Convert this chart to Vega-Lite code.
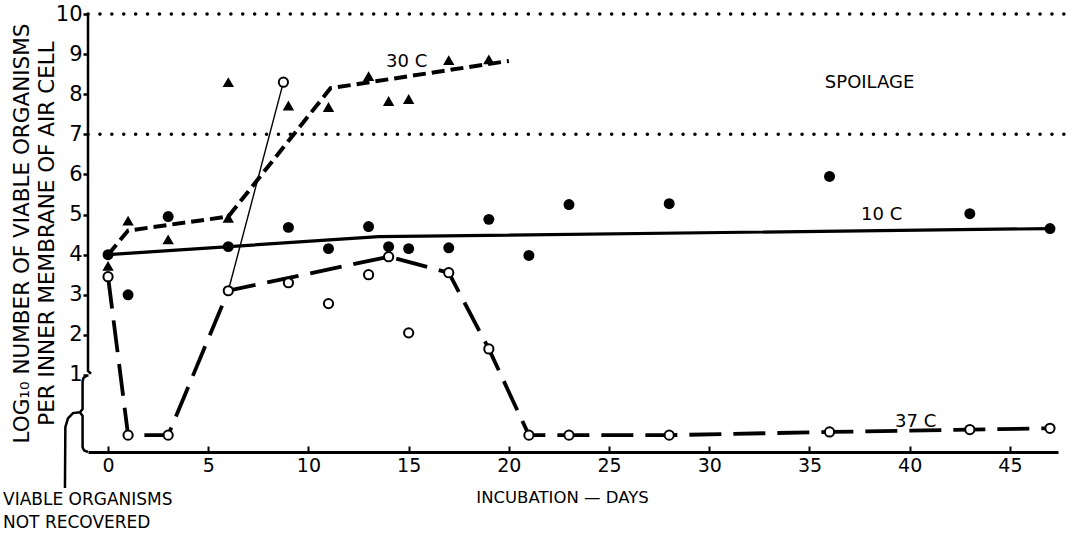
{
  "$schema": "https://vega.github.io/schema/vega-lite/v6.json",
  "width": 970,
  "height": 438,
  "autosize": {"type": "none"},
  "padding": {"left": 88, "top": 14, "right": 27, "bottom": 81},
  "background": "white",
  "config": {
    "font": "DejaVu Sans",
    "view": {"stroke": null},
    "axis": {"labelColor": "black", "titleColor": "black", "tickColor": "black", "domainColor": "black", "grid": false, "labelFont": "DejaVu Sans", "titleFont": "DejaVu Sans", "titleFontWeight": "normal"}
  },
  "datasets": {
    "guides": [{"y": 10}, {"y": 7}],
    "points": [
      {"series": "10 C", "day": 0, "v": 4.0},
      {"series": "10 C", "day": 1, "v": 3.0},
      {"series": "10 C", "day": 3, "v": 4.95},
      {"series": "10 C", "day": 6, "v": 4.2},
      {"series": "10 C", "day": 9, "v": 4.68},
      {"series": "10 C", "day": 11, "v": 4.15},
      {"series": "10 C", "day": 13, "v": 4.7},
      {"series": "10 C", "day": 14, "v": 4.2},
      {"series": "10 C", "day": 15, "v": 4.15},
      {"series": "10 C", "day": 17, "v": 4.17},
      {"series": "10 C", "day": 19, "v": 4.88},
      {"series": "10 C", "day": 21, "v": 3.98},
      {"series": "10 C", "day": 23, "v": 5.25},
      {"series": "10 C", "day": 28, "v": 5.27},
      {"series": "10 C", "day": 36, "v": 5.95},
      {"series": "10 C", "day": 43, "v": 5.02},
      {"series": "10 C", "day": 47, "v": 4.65},
      {"series": "30 C", "day": 0, "v": 3.72},
      {"series": "30 C", "day": 1, "v": 4.85},
      {"series": "30 C", "day": 3, "v": 4.38},
      {"series": "30 C", "day": 6, "v": 4.92},
      {"series": "30 C", "day": 6, "v": 8.3},
      {"series": "30 C", "day": 9, "v": 7.72},
      {"series": "30 C", "day": 11, "v": 7.68},
      {"series": "30 C", "day": 13, "v": 8.45},
      {"series": "30 C", "day": 14, "v": 7.83},
      {"series": "30 C", "day": 15, "v": 7.88},
      {"series": "30 C", "day": 17, "v": 8.85},
      {"series": "30 C", "day": 19, "v": 8.87},
      {"series": "37 C", "day": 0, "v": 3.45},
      {"series": "37 C", "day": 1, "v": -0.5},
      {"series": "37 C", "day": 3, "v": -0.5},
      {"series": "37 C", "day": 6, "v": 3.1},
      {"series": "37 C", "day": 8.75, "v": 8.3},
      {"series": "37 C", "day": 9, "v": 3.3},
      {"series": "37 C", "day": 11, "v": 2.78},
      {"series": "37 C", "day": 13, "v": 3.5},
      {"series": "37 C", "day": 14, "v": 3.95},
      {"series": "37 C", "day": 15, "v": 2.05},
      {"series": "37 C", "day": 17, "v": 3.55},
      {"series": "37 C", "day": 19, "v": 1.65},
      {"series": "37 C", "day": 21, "v": -0.5},
      {"series": "37 C", "day": 23, "v": -0.5},
      {"series": "37 C", "day": 28, "v": -0.5},
      {"series": "37 C", "day": 36, "v": -0.42},
      {"series": "37 C", "day": 43, "v": -0.36},
      {"series": "37 C", "day": 47, "v": -0.33}
    ],
    "line10": [
      {"day": 0, "v": 4.0},
      {"day": 13.5, "v": 4.45},
      {"day": 47, "v": 4.65}
    ],
    "line30": [
      {"day": 0, "v": 4.0},
      {"day": 1, "v": 4.6},
      {"day": 6, "v": 4.95},
      {"day": 11.1, "v": 8.15},
      {"day": 20, "v": 8.83}
    ],
    "line37": [
      {"day": 0, "v": 3.45},
      {"day": 1, "v": -0.5},
      {"day": 3, "v": -0.5},
      {"day": 6, "v": 3.1},
      {"day": 14, "v": 3.95},
      {"day": 17, "v": 3.55},
      {"day": 19, "v": 1.65},
      {"day": 21, "v": -0.5},
      {"day": 23, "v": -0.5},
      {"day": 28, "v": -0.5},
      {"day": 36, "v": -0.42},
      {"day": 43, "v": -0.36},
      {"day": 47, "v": -0.33}
    ],
    "thin37": [
      {"day": 6, "v": 3.1},
      {"day": 8.75, "v": 8.3}
    ],
    "brace": [
      {"g": "axis", "i": 0, "day": -1, "v": 10},
      {"g": "axis", "i": 1, "day": -1, "v": 1.1},
      {"g": "axis", "i": 2, "day": -0.85, "v": 1.03},
      {"g": "brace", "i": 0, "day": -1.05, "v": 0.98},
      {"g": "brace", "i": 1, "day": -1.22, "v": 0.93},
      {"g": "brace", "i": 2, "day": -1.27, "v": 0.85},
      {"g": "brace", "i": 3, "day": -1.27, "v": 0.15},
      {"g": "brace", "i": 4, "day": -1.4, "v": 0.07},
      {"g": "brace", "i": 5, "day": -1.27, "v": -0.02},
      {"g": "brace", "i": 6, "day": -1.27, "v": -0.8},
      {"g": "brace", "i": 7, "day": -1.2, "v": -0.88},
      {"g": "brace", "i": 8, "day": -1.0, "v": -0.92},
      {"g": "link", "i": 0, "day": -1.4, "v": 0.07},
      {"g": "link", "i": 1, "day": -1.75, "v": 0.05},
      {"g": "link", "i": 2, "day": -2.0, "v": -0.08},
      {"g": "link", "i": 3, "day": -2.13, "v": -0.3},
      {"g": "link", "i": 4, "day": -2.15, "v": -1.82}
    ],
    "notes": [
      {"day": 38.0, "v": 8.28, "t": "SPOILAGE"},
      {"day": 14.9, "v": 8.8, "t": "30 C"},
      {"day": 38.6, "v": 4.99, "t": "10 C"},
      {"day": 40.3, "v": -0.17, "t": "37 C"}
    ],
    "nr": [
      {"day": -5.24, "v": -2.24, "t": "VIABLE ORGANISMS\nNOT RECOVERED"}
    ]
  },
  "layer": [
    {
      "data": {"name": "guides"},
      "mark": {"type": "rule", "strokeDash": [0.1, 11.8], "strokeCap": "round", "strokeWidth": 3.5, "color": "black", "clip": false},
      "encoding": {
        "x": {"datum": -1, "type": "quantitative", "scale": {"domain": [-1, 47.4], "nice": false, "zero": false}, "axis": {
          "values": [0, 5, 10, 15, 20, 25, 30, 35, 40, 45],
          "title": "INCUBATION — DAYS",
          "titleFontSize": 16.5,
          "titlePadding": 14,
          "titleX": 474,
          "labelFontSize": 19,
          "labelPadding": 10,
          "tickSize": -6,
          "tickWidth": 2,
          "domainWidth": 3
        }},
        "x2": {"datum": 48.25},
        "y": {"field": "y", "type": "quantitative", "scale": {"domain": [-0.92, 10], "nice": false, "zero": false}, "axis": {
          "values": [1, 2, 3, 4, 5, 6, 7, 8, 9, 10],
          "domain": false,
          "tickSize": 5,
          "tickWidth": 2.5,
          "labelFontSize": 21,
          "labelPadding": 1,
          "title": ["LOG₁₀ NUMBER OF VIABLE ORGANISMS", "PER INNER MEMBRANE OF AIR CELL"],
          "titleFontSize": 21.5,
          "titleLineHeight": 25,
          "titleAngle": -90,
          "titleX": -66,
          "titleY": 219,
          "titleAlign": "center",
          "titleBaseline": "middle"
        }}
      }
    },
    {
      "data": {"name": "brace"},
      "mark": {"type": "line", "color": "black", "strokeWidth": 2.5, "clip": false, "interpolate": "linear"},
      "encoding": {
        "x": {"field": "day", "type": "quantitative", "scale": {"domain": [-1, 47.4], "nice": false, "zero": false}},
        "y": {"field": "v", "type": "quantitative", "scale": {"domain": [-0.92, 10], "nice": false, "zero": false}},
        "detail": {"field": "g"},
        "order": {"field": "i", "type": "quantitative"}
      }
    },
    {
      "data": {"name": "line10"},
      "mark": {"type": "line", "color": "black", "strokeWidth": 3.2},
      "encoding": {
        "x": {"field": "day", "type": "quantitative", "scale": {"domain": [-1, 47.4], "nice": false, "zero": false}},
        "y": {"field": "v", "type": "quantitative", "scale": {"domain": [-0.92, 10], "nice": false, "zero": false}}
      }
    },
    {
      "data": {"name": "line30"},
      "mark": {"type": "line", "color": "black", "strokeWidth": 4, "strokeDash": [13, 6]},
      "encoding": {
        "x": {"field": "day", "type": "quantitative", "scale": {"domain": [-1, 47.4], "nice": false, "zero": false}},
        "y": {"field": "v", "type": "quantitative", "scale": {"domain": [-0.92, 10], "nice": false, "zero": false}}
      }
    },
    {
      "data": {"name": "line37"},
      "mark": {"type": "line", "color": "black", "strokeWidth": 3.8, "strokeDash": [32, 12]},
      "encoding": {
        "x": {"field": "day", "type": "quantitative", "scale": {"domain": [-1, 47.4], "nice": false, "zero": false}},
        "y": {"field": "v", "type": "quantitative", "scale": {"domain": [-0.92, 10], "nice": false, "zero": false}}
      }
    },
    {
      "data": {"name": "thin37"},
      "mark": {"type": "line", "color": "black", "strokeWidth": 1.4},
      "encoding": {
        "x": {"field": "day", "type": "quantitative", "scale": {"domain": [-1, 47.4], "nice": false, "zero": false}},
        "y": {"field": "v", "type": "quantitative", "scale": {"domain": [-0.92, 10], "nice": false, "zero": false}}
      }
    },
    {
      "data": {"name": "points"},
      "transform": [{"filter": "datum.series == '10 C'"}],
      "mark": {"type": "point", "shape": "circle", "filled": true, "color": "black", "size": 120, "opacity": 1},
      "encoding": {
        "x": {"field": "day", "type": "quantitative", "scale": {"domain": [-1, 47.4], "nice": false, "zero": false}},
        "y": {"field": "v", "type": "quantitative", "scale": {"domain": [-0.92, 10], "nice": false, "zero": false}}
      }
    },
    {
      "data": {"name": "points"},
      "transform": [{"filter": "datum.series == '30 C'"}],
      "mark": {"type": "point", "shape": "triangle-up", "filled": true, "color": "black", "size": 130, "opacity": 1},
      "encoding": {
        "x": {"field": "day", "type": "quantitative", "scale": {"domain": [-1, 47.4], "nice": false, "zero": false}},
        "y": {"field": "v", "type": "quantitative", "scale": {"domain": [-0.92, 10], "nice": false, "zero": false}}
      }
    },
    {
      "data": {"name": "points"},
      "transform": [{"filter": "datum.series == '37 C'"}],
      "mark": {"type": "point", "shape": "circle", "filled": false, "fill": "white", "stroke": "black", "strokeWidth": 2, "size": 85, "opacity": 1, "fillOpacity": 1},
      "encoding": {
        "x": {"field": "day", "type": "quantitative", "scale": {"domain": [-1, 47.4], "nice": false, "zero": false}},
        "y": {"field": "v", "type": "quantitative", "scale": {"domain": [-0.92, 10], "nice": false, "zero": false}}
      }
    },
    {
      "data": {"name": "notes"},
      "mark": {"type": "text", "fontSize": 18, "color": "black", "align": "center", "baseline": "middle", "clip": false},
      "encoding": {
        "x": {"field": "day", "type": "quantitative", "scale": {"domain": [-1, 47.4], "nice": false, "zero": false}},
        "y": {"field": "v", "type": "quantitative", "scale": {"domain": [-0.92, 10], "nice": false, "zero": false}},
        "text": {"field": "t"}
      }
    },
    {
      "data": {"name": "nr"},
      "mark": {"type": "text", "fontSize": 17, "color": "black", "align": "left", "baseline": "alphabetic", "lineBreak": "\n", "lineHeight": 23, "clip": false},
      "encoding": {
        "x": {"field": "day", "type": "quantitative", "scale": {"domain": [-1, 47.4], "nice": false, "zero": false}},
        "y": {"field": "v", "type": "quantitative", "scale": {"domain": [-0.92, 10], "nice": false, "zero": false}},
        "text": {"field": "t"}
      }
    }
  ]
}
